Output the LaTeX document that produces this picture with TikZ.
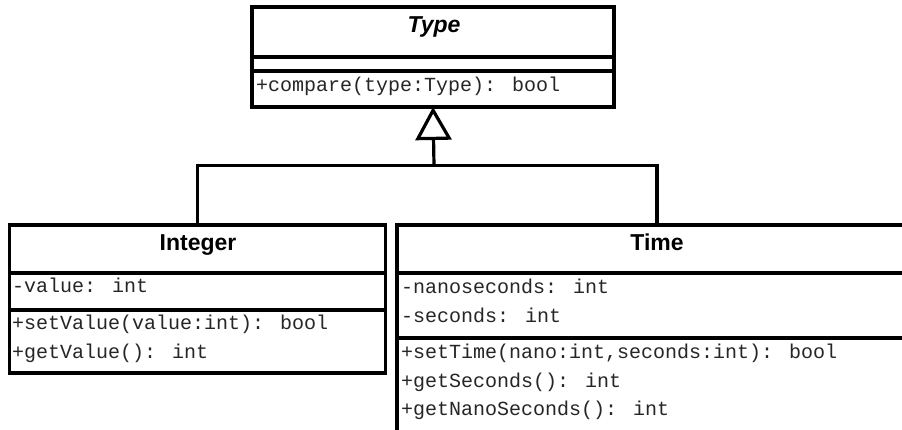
\documentclass[tikz,border=0pt]{standalone}
\usepackage{fontspec}
\setmainfont{Liberation Sans}
\newfontfamily\umlmono{Liberation Mono}
\usetikzlibrary{arrows.meta}

\begin{document}
\begin{tikzpicture}[x=1pt,y=-1pt,
  classbox/.style={draw, line width=3.6pt, rectangle, inner sep=0pt, outer sep=0pt, anchor=north west},
  sep/.style={line width=3.6pt},
  classname/.style={font=\fontsize{23}{23}\selectfont\bfseries, anchor=base, inner sep=0pt},
  member/.style={font=\umlmono\fontsize{20}{20}\selectfont, text=black!85, anchor=base west, inner sep=0pt},
  conn/.style={line width=3.6pt},
  inherit/.style={line width=3.2pt, -{Triangle[open, length=33pt, width=36pt, line width=3.2pt]}, shorten >=0pt},
]
\fill[white] (0,0) rectangle (902,430);
\clip (0,0) rectangle (902,430);
\useasboundingbox (0,0) rectangle (902,430);

% abstract class Type
\node[classbox, minimum width=362pt, minimum height=100pt] (type) at (252,7) {};
\draw[sep] (252,57) -- (614,57);
\draw[sep] (252,71) -- (614,71);
\node[classname, font=\fontsize{23}{23}\selectfont\bfseries\itshape] (typename) at (434,33) {Type};
\node[member] (typeop) at (256,92) {+compare(type:Type): bool};

% class Integer
\node[classbox, minimum width=376pt, minimum height=148pt] (int) at (9.5,225) {};
\draw[sep] (9.5,273) -- (385.5,273);
\draw[sep] (9.5,310) -- (385.5,310);
\node[classname] (intname) at (198,251) {Integer};
\node[member] (intattr) at (12,293) {-value: int};
\node[member] (intop1) at (12,330) {+setValue(value:int): bool};
\node[member] (intop2) at (12,358) {+getValue(): int};

% class Time
\node[classbox, minimum width=520pt, minimum height=240pt] (time) at (397,225) {};
\draw[sep] (397,273) -- (917,273);
\draw[sep] (397,338) -- (917,338);
\node[classname] (timename) at (657,251) {Time};
\node[member] (timeattr1) at (401,294) {-nanoseconds: int};
\node[member] (timeattr2) at (401,323) {-seconds: int};
\node[member] (timeop1) at (401,358) {+setTime(nano:int,seconds:int): bool};
\node[member] (timeop2) at (401,387) {+getSeconds(): int};
\node[member] (timeop3) at (401,415) {+getNanoSeconds(): int};

% generalisation
\coordinate (j) at (434,165.5);
\draw[conn] (int.north) |- (j) -| (time.north);
\draw[inherit] (j) -- (type.south);
\end{tikzpicture}
\end{document}
